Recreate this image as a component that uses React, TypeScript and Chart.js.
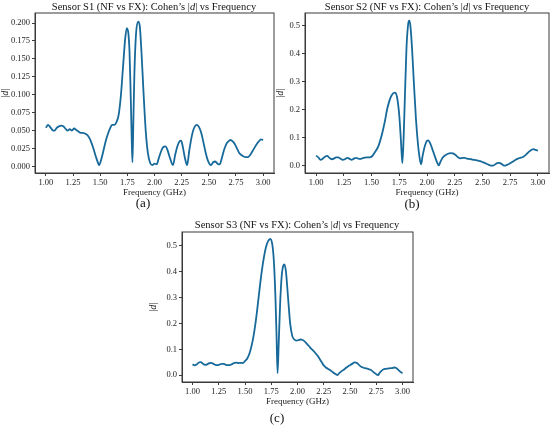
import React, { useEffect, useRef } from 'react';
import { Chart, registerables } from 'chart.js';

Chart.register(...registerables);

// Sensor S1
const freqS1 = [1.00, 1.02, 1.04, 1.06, 1.08, 1.10, 1.12, 1.14, 1.16, 1.18, 1.20, 1.22, 1.24, 1.26, 1.28, 1.30, 1.32, 1.34, 1.36, 1.38, 1.40, 1.42, 1.44, 1.46, 1.48, 1.49, 1.51, 1.53, 1.55, 1.57, 1.59, 1.61, 1.63, 1.65, 1.67, 1.69, 1.71, 1.73, 1.745, 1.76, 1.77, 1.78, 1.79, 1.797, 1.805, 1.815, 1.83, 1.85, 1.865, 1.88, 1.90, 1.92, 1.94, 1.96, 1.98, 2.00, 2.02, 2.04, 2.06, 2.08, 2.10, 2.12, 2.14, 2.17, 2.19, 2.21, 2.23, 2.245, 2.26, 2.28, 2.30, 2.32, 2.34, 2.36, 2.39, 2.41, 2.43, 2.45, 2.47, 2.49, 2.52, 2.54, 2.56, 2.58, 2.60, 2.62, 2.64, 2.66, 2.68, 2.70, 2.72, 2.74, 2.76, 2.78, 2.80, 2.82, 2.84, 2.86, 2.88, 2.90, 2.92, 2.94, 2.96, 2.98, 3.00];
const dS1 = [0.054, 0.058, 0.055, 0.051, 0.050, 0.054, 0.056, 0.057, 0.056, 0.053, 0.050, 0.052, 0.050, 0.053, 0.051, 0.049, 0.047, 0.047, 0.046, 0.044, 0.040, 0.033, 0.024, 0.014, 0.005, 0.002, 0.010, 0.022, 0.035, 0.045, 0.053, 0.058, 0.058, 0.062, 0.072, 0.098, 0.138, 0.178, 0.193, 0.185, 0.160, 0.105, 0.040, 0.006, 0.060, 0.130, 0.185, 0.202, 0.195, 0.160, 0.100, 0.048, 0.018, 0.005, 0.002, 0.004, 0.003, 0.012, 0.021, 0.027, 0.028, 0.023, 0.013, 0.002, 0.016, 0.028, 0.035, 0.036, 0.028, 0.012, 0.002, 0.022, 0.040, 0.052, 0.058, 0.055, 0.047, 0.034, 0.020, 0.009, 0.002, 0.006, 0.007, 0.004, 0.003, 0.012, 0.023, 0.031, 0.035, 0.037, 0.035, 0.031, 0.025, 0.019, 0.016, 0.014, 0.013, 0.013, 0.016, 0.021, 0.026, 0.031, 0.035, 0.038, 0.037];

// Sensor S2
const freqS2 = [1.00, 1.02, 1.04, 1.06, 1.08, 1.10, 1.12, 1.14, 1.16, 1.18, 1.20, 1.22, 1.24, 1.26, 1.28, 1.30, 1.32, 1.34, 1.36, 1.38, 1.40, 1.42, 1.44, 1.46, 1.48, 1.50, 1.52, 1.54, 1.56, 1.58, 1.60, 1.62, 1.64, 1.66, 1.68, 1.71, 1.73, 1.75, 1.765, 1.778, 1.79, 1.80, 1.815, 1.83, 1.84, 1.85, 1.865, 1.88, 1.90, 1.92, 1.935, 1.947, 1.96, 1.98, 2.00, 2.01, 2.03, 2.05, 2.07, 2.09, 2.107, 2.12, 2.14, 2.16, 2.18, 2.20, 2.22, 2.24, 2.26, 2.28, 2.30, 2.32, 2.34, 2.36, 2.38, 2.40, 2.42, 2.44, 2.46, 2.48, 2.50, 2.52, 2.54, 2.56, 2.58, 2.60, 2.62, 2.64, 2.66, 2.68, 2.70, 2.72, 2.74, 2.76, 2.78, 2.80, 2.82, 2.84, 2.86, 2.88, 2.90, 2.92, 2.94, 2.96, 2.98, 3.00];
const dS2 = [0.037, 0.031, 0.022, 0.026, 0.033, 0.036, 0.029, 0.024, 0.026, 0.031, 0.031, 0.026, 0.022, 0.024, 0.029, 0.026, 0.022, 0.026, 0.029, 0.026, 0.025, 0.028, 0.030, 0.031, 0.031, 0.033, 0.043, 0.055, 0.069, 0.093, 0.123, 0.159, 0.201, 0.231, 0.251, 0.261, 0.245, 0.180, 0.090, 0.010, 0.110, 0.237, 0.420, 0.505, 0.518, 0.500, 0.420, 0.309, 0.170, 0.072, 0.025, 0.006, 0.035, 0.070, 0.090, 0.091, 0.080, 0.058, 0.035, 0.014, 0.002, 0.014, 0.029, 0.037, 0.042, 0.045, 0.046, 0.044, 0.038, 0.031, 0.027, 0.029, 0.029, 0.026, 0.025, 0.024, 0.022, 0.021, 0.019, 0.017, 0.014, 0.011, 0.007, 0.004, 0.001, 0.002, 0.007, 0.011, 0.010, 0.005, 0.001, 0.004, 0.007, 0.012, 0.017, 0.022, 0.026, 0.029, 0.031, 0.036, 0.043, 0.051, 0.057, 0.060, 0.057, 0.055];

// Sensor S3
const freqS3 = [1.00, 1.02, 1.04, 1.06, 1.08, 1.10, 1.12, 1.14, 1.16, 1.18, 1.20, 1.22, 1.24, 1.26, 1.28, 1.30, 1.32, 1.34, 1.36, 1.38, 1.40, 1.42, 1.44, 1.46, 1.48, 1.50, 1.52, 1.54, 1.56, 1.58, 1.60, 1.62, 1.64, 1.66, 1.68, 1.70, 1.72, 1.74, 1.76, 1.775, 1.79, 1.80, 1.81, 1.82, 1.835, 1.85, 1.865, 1.875, 1.89, 1.91, 1.93, 1.95, 1.97, 1.99, 2.01, 2.03, 2.05, 2.07, 2.09, 2.11, 2.13, 2.15, 2.17, 2.19, 2.21, 2.23, 2.25, 2.27, 2.29, 2.31, 2.33, 2.35, 2.38, 2.40, 2.42, 2.44, 2.46, 2.48, 2.50, 2.52, 2.545, 2.57, 2.59, 2.61, 2.63, 2.65, 2.67, 2.69, 2.71, 2.73, 2.75, 2.768, 2.78, 2.80, 2.82, 2.84, 2.86, 2.88, 2.90, 2.92, 2.94, 2.96, 2.98, 3.00];
const dS3 = [0.042, 0.038, 0.042, 0.049, 0.051, 0.044, 0.040, 0.042, 0.047, 0.048, 0.044, 0.040, 0.039, 0.042, 0.044, 0.044, 0.040, 0.039, 0.040, 0.044, 0.048, 0.049, 0.047, 0.048, 0.047, 0.055, 0.064, 0.081, 0.109, 0.148, 0.201, 0.266, 0.337, 0.402, 0.455, 0.495, 0.518, 0.526, 0.505, 0.440, 0.300, 0.160, 0.008, 0.110, 0.280, 0.385, 0.424, 0.428, 0.400, 0.300, 0.200, 0.152, 0.138, 0.134, 0.136, 0.138, 0.136, 0.130, 0.121, 0.112, 0.103, 0.095, 0.086, 0.076, 0.064, 0.051, 0.038, 0.030, 0.025, 0.020, 0.014, 0.008, 0.001, 0.009, 0.016, 0.021, 0.028, 0.034, 0.039, 0.044, 0.050, 0.046, 0.038, 0.032, 0.029, 0.027, 0.025, 0.022, 0.017, 0.010, 0.004, 0.001, 0.008, 0.017, 0.023, 0.025, 0.026, 0.027, 0.028, 0.030, 0.028, 0.021, 0.013, 0.008];

const xTicks = [1.0, 1.25, 1.5, 1.75, 2.0, 2.25, 2.5, 2.75, 3.0];
const yTicksS1 = [0, 0.025, 0.05, 0.075, 0.1, 0.125, 0.15, 0.175, 0.2];
const yTicksS23 = [0, 0.1, 0.2, 0.3, 0.4, 0.5];

const LINE = '#17699a';
const AXIS = '#3a3a3a';
const SERIF = '"Liberation Serif", "DejaVu Serif", serif';

const framePlugin = {
    id: 'frame',
    afterDraw(chart: any) {
        const { ctx, chartArea } = chart;
        ctx.save();
        ctx.strokeStyle = AXIS;
        ctx.lineWidth = 1;
        ctx.strokeRect(chartArea.left, chartArea.top, chartArea.right - chartArea.left, chartArea.bottom - chartArea.top);
        ctx.restore();
    }
};

interface PanelProps {
    freq: number[];
    d: number[];
    yTicks: number[];
    yMin: number;
    yMax: number;
    decimals: number;
    left: number;
    top: number;
    width: number;
    height: number;
    yAxisWidth: number;
    padRight: number;
}

const Panel: React.FC<PanelProps> = ({ freq, d, yTicks, yMin, yMax, decimals, left, top, width, height, yAxisWidth, padRight }) => {
    const chartRef = useRef<HTMLCanvasElement>(null);
    const chartInstance = useRef<Chart | null>(null);

    useEffect(() => {
        if (chartInstance.current) {
            chartInstance.current.destroy();
        }
        if (chartRef.current) {
            const ctx = chartRef.current.getContext('2d');
            if (ctx) {
                chartInstance.current = new Chart(ctx, {
                    type: 'line',
                    data: {
                        datasets: [{
                            data: freq.map((f, i) => ({ x: f, y: d[i] })),
                            borderColor: LINE,
                            borderWidth: 1.8,
                            pointRadius: 0,
                            cubicInterpolationMode: 'monotone',
                            fill: false
                        }]
                    },
                    options: {
                        animation: false,
                        responsive: false,
                        maintainAspectRatio: false,
                        layout: { padding: { top: 13, right: padRight, left: 0, bottom: 0 } },
                        plugins: {
                            legend: { display: false },
                            tooltip: { enabled: false }
                        },
                        scales: {
                            x: {
                                type: 'linear',
                                min: 0.9,
                                max: 3.1,
                                afterBuildTicks: (scale: any) => { scale.ticks = xTicks.map(v => ({ value: v })); },
                                afterFit: (scale: any) => { scale.height = 25; },
                                ticks: {
                                    color: '#222',
                                    font: { family: SERIF, size: 8.5 },
                                    padding: 1.5,
                                    maxRotation: 0,
                                    callback: (v: any) => Number(v).toFixed(2)
                                },
                                grid: { display: true, drawOnChartArea: false, drawTicks: true, tickLength: 3, color: AXIS },
                                border: { display: true, color: AXIS },
                                title: {
                                    display: true,
                                    text: 'Frequency (GHz)',
                                    color: '#222',
                                    font: { family: SERIF, size: 9 },
                                    padding: { top: 0, bottom: 0 }
                                }
                            },
                            y: {
                                type: 'linear',
                                min: yMin,
                                max: yMax,
                                afterBuildTicks: (scale: any) => { scale.ticks = yTicks.map(v => ({ value: v })); },
                                afterFit: (scale: any) => { scale.width = yAxisWidth; },
                                ticks: {
                                    color: '#222',
                                    font: { family: SERIF, size: 8.5 },
                                    padding: 2,
                                    callback: (v: any) => Number(v).toFixed(decimals)
                                },
                                grid: { display: true, drawOnChartArea: false, drawTicks: true, tickLength: 3, color: AXIS },
                                border: { display: true, color: AXIS },
                                title: {
                                    display: true,
                                    text: '|d|',
                                    color: '#222',
                                    font: { family: SERIF, size: 9.5, style: 'italic' },
                                    padding: { top: 0, bottom: 0 }
                                }
                            }
                        }
                    },
                    plugins: [framePlugin]
                });
            }
        }
        return () => {
            if (chartInstance.current) {
                chartInstance.current.destroy();
            }
        };
    }, [freq, d]);

    return (
        <div style={{ position: 'absolute', left, top, width, height }}>
            <canvas ref={chartRef} width={width} height={height} style={{ width, height }} />
        </div>
    );
};

const titleStyle = (cx: number, cy: number): React.CSSProperties => ({
    position: 'absolute',
    left: cx - 150,
    top: cy - 7,
    width: 300,
    textAlign: 'center',
    fontFamily: SERIF,
    fontSize: 10.5,
    lineHeight: '14px',
    color: '#111',
    whiteSpace: 'nowrap'
});

const tagStyle = (cx: number, cy: number): React.CSSProperties => ({
    position: 'absolute',
    left: cx - 20,
    top: cy - 8,
    width: 40,
    textAlign: 'center',
    fontFamily: SERIF,
    fontSize: 13,
    lineHeight: '16px',
    color: '#111'
});

const Title: React.FC<{ sensor: string; cx: number; cy: number }> = ({ sensor, cx, cy }) => (
    <div style={titleStyle(cx, cy)}>
        Sensor {sensor} (NF vs FX): Cohen’s |<i>d</i>| vs Frequency
    </div>
);

export default function App() {
    return (
        <div style={{ position: 'absolute', left: 0, top: 0, width: 550, height: 425, background: '#fff' }}>
            <Panel freq={freqS1} d={dS1} yTicks={yTicksS1} yMin={-0.009} yMax={0.214} decimals={3}
                left={0} top={0} width={278} height={198} yAxisWidth={35} padRight={4} />
            <Title sensor="S1" cx={154} cy={7} />
            <div style={tagStyle(143, 203)}>(a)</div>

            <Panel freq={freqS2} d={dS2} yTicks={yTicksS23} yMin={-0.025} yMax={0.545} decimals={1}
                left={275} top={0} width={275} height={198} yAxisWidth={30} padRight={1} />
            <Title sensor="S2" cx={427} cy={7} />
            <div style={tagStyle(412, 204)}>(b)</div>

            <Panel freq={freqS3} d={dS3} yTicks={yTicksS23} yMin={-0.026} yMax={0.553} decimals={1}
                left={148} top={219} width={268} height={188} yAxisWidth={34} padRight={3} />
            <Title sensor="S3" cx={297} cy={225} />
            <div style={tagStyle(277, 418)}>(c)</div>
        </div>
    );
}
